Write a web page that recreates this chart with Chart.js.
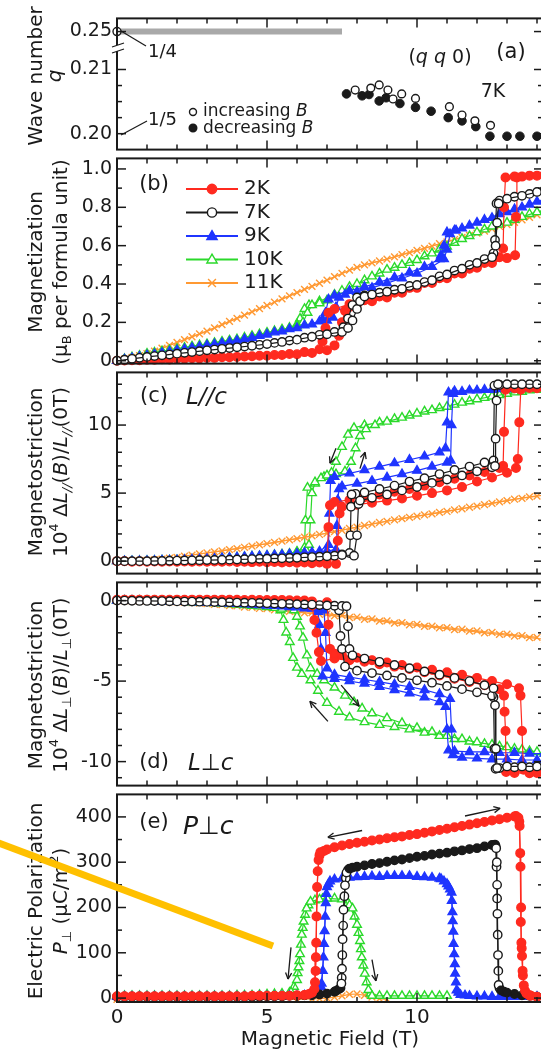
<!DOCTYPE html>
<html>
<head>
<meta charset="utf-8">
<script src="https://cdn.jsdelivr.net/npm/chart.js@4.4.1/dist/chart.umd.min.js"></script>
<style>
  html, body { margin: 0; padding: 0; background: #fff; overflow: hidden; }
  #wrap { position: relative; width: 560px; height: 1053px; }
  #wrap canvas { position: absolute; left: 0; }
</style>
</head>
<body>
<div id="wrap"></div>
<script>
// ---- colours / fonts ----
const INK = '#1a1a1a';
const FONT = '"DejaVu Sans", "Liberation Sans", sans-serif';
const RED = '#ff2a1f', BLUE = '#1f35ff', GREEN = '#2bd92b', ORANGE = '#ff9933';
const GRAY = '#a9a9a9', GOLD = '#ffc000';

// ---- shared field axis ----
const X_MIN = 0, X_MAX = 14.2;
const X_MAJOR = [0, 5, 10];
const X_MINOR = [1, 2, 3, 4, 6, 7, 8, 9, 11, 12, 13, 14];
const X_LABELS = ['0', '5', '10'];
const TEMPS = ['2K', '7K', '9K', '10K', '11K'];

// ---- (a) wave number q at 7K : [B (T), q] ----
const Q_INCREASING = [[7.94,0.2068],[8.46,0.2071],[8.74,0.2076],[9.03,0.2068],[9.2,0.2054],[9.49,0.2062],[9.95,0.2055],[11.08,0.2042],[11.5,0.2029],[11.93,0.2020],[12.45,0.2013]];
const Q_DECREASING = [[7.65,0.2062],[8.17,0.2059],[8.4,0.2061],[8.74,0.2051],[8.97,0.2056],[9.43,0.2047],[9.95,0.2041],[10.47,0.2035],[11.04,0.2025],[11.5,0.2020],[11.96,0.2011],[12.43,0.1996],[13.0,0.1996],[13.43,0.1996],[14.0,0.1996]];
const Q_COMMENSURATE = [[0, 0.25]];
const Q_BAR = [[0, 0.25], [7.5, 0.25]];
const Y_TICKS_A = [0.20, 0.21, 0.25];
const Y_LABELS_A = ['0.20', '0.21', '0.25'];
const Y_MINOR_A = [0.2025, 0.205, 0.2075];

// ---- (b) magnetization ----
const M_2K_UP = [[0,0],[0.5,0.003],[1,0.005],[1.5,0.008],[2,0.01],[2.5,0.013],[3,0.015],[3.5,0.018],[4,0.02],[4.5,0.023],[5,0.026],[5.5,0.03],[6,0.034],[6.5,0.04],[7,0.055],[7.25,0.08],[7.4,0.13],[7.5,0.2],[7.6,0.26],[7.75,0.28],[8,0.295],[8.5,0.31],[9,0.33],[9.5,0.355],[10,0.38],[10.5,0.405],[11,0.43],[11.5,0.455],[12,0.485],[12.5,0.51],[13,0.535],[13.27,0.55],[13.3,0.75],[13.33,0.955],[13.5,0.96],[14,0.965]];
const M_2K_DOWN = [[14.25,0.97],[13.75,0.965],[13.25,0.96],[12.95,0.955],[12.9,0.8],[12.87,0.585],[12.75,0.54],[12.25,0.51],[11.75,0.48],[11.25,0.455],[10.75,0.43],[10.25,0.405],[9.75,0.38],[9.25,0.355],[8.75,0.335],[8.25,0.315],[7.75,0.295],[7.25,0.27],[7.05,0.25],[6.95,0.17],[6.85,0.1],[6.75,0.06],[6.25,0.045],[5.75,0.035],[5.25,0.03],[4.75,0.026],[4.25,0.022],[3.75,0.018],[3.25,0.015],[2.75,0.012],[2.25,0.01],[1.75,0.007],[1.25,0.005],[0.75,0.003],[0.25,0.001]];
const M_7K_UP = [[0,0],[0.5,0.01],[1,0.02],[1.5,0.028],[2,0.037],[2.5,0.045],[3,0.054],[3.5,0.062],[4,0.07],[4.5,0.078],[5,0.087],[5.5,0.098],[6,0.11],[6.5,0.125],[7,0.138],[7.5,0.15],[7.7,0.17],[7.85,0.21],[8,0.27],[8.1,0.31],[8.25,0.335],[8.5,0.345],[9,0.36],[9.5,0.375],[10,0.395],[10.5,0.42],[11,0.45],[11.5,0.48],[12,0.51],[12.5,0.54],[12.62,0.6],[12.67,0.72],[12.72,0.82],[13,0.845],[13.5,0.86],[14,0.88]];
const M_7K_DOWN = [[14.25,0.89],[13.75,0.87],[13.25,0.855],[12.75,0.835],[12.65,0.82],[12.6,0.63],[12.55,0.56],[12.25,0.53],[11.75,0.5],[11.25,0.47],[10.75,0.44],[10.25,0.41],[9.75,0.39],[9.25,0.37],[8.75,0.355],[8.25,0.34],[8.0,0.33],[7.85,0.29],[7.7,0.22],[7.55,0.175],[7.25,0.15],[6.75,0.135],[6.25,0.12],[5.75,0.105],[5.25,0.093],[4.75,0.083],[4.25,0.074],[3.75,0.066],[3.25,0.058],[2.75,0.05],[2.25,0.041],[1.75,0.032],[1.25,0.024],[0.75,0.015],[0.25,0.005]];
const M_9K_UP = [[0,0],[0.5,0.014],[1,0.028],[1.5,0.041],[2,0.054],[2.5,0.067],[3,0.08],[3.5,0.092],[4,0.105],[4.5,0.12],[5,0.137],[5.5,0.153],[6,0.17],[6.5,0.19],[7,0.21],[7.2,0.225],[7.3,0.28],[7.4,0.33],[7.6,0.345],[8,0.36],[8.5,0.38],[9,0.405],[9.5,0.43],[10,0.455],[10.5,0.49],[10.9,0.53],[11,0.58],[11.1,0.66],[11.3,0.68],[11.5,0.69],[12,0.72],[12.5,0.745],[13,0.775],[13.5,0.8],[14,0.83]];
const M_9K_DOWN = [[14.25,0.84],[13.75,0.815],[13.25,0.79],[12.75,0.765],[12.25,0.735],[11.75,0.705],[11.25,0.68],[11.0,0.67],[10.9,0.6],[10.8,0.55],[10.75,0.53],[10.25,0.49],[9.75,0.46],[9.25,0.435],[8.75,0.41],[8.25,0.385],[7.75,0.365],[7.25,0.34],[7.05,0.32],[6.95,0.25],[6.85,0.215],[6.75,0.205],[6.25,0.185],[5.75,0.165],[5.25,0.148],[4.75,0.13],[4.25,0.113],[3.75,0.098],[3.25,0.086],[2.75,0.073],[2.25,0.06],[1.75,0.047],[1.25,0.034],[0.75,0.021],[0.25,0.007]];
const M_10K_UP = [[0,0],[0.5,0.018],[1,0.037],[1.5,0.05],[2,0.062],[2.5,0.075],[3,0.087],[3.5,0.1],[4,0.112],[4.5,0.13],[5,0.146],[5.5,0.163],[6,0.18],[6.2,0.2],[6.35,0.25],[6.5,0.29],[6.75,0.3],[7,0.315],[7.5,0.365],[8,0.4],[8.5,0.44],[9,0.475],[9.5,0.5],[10,0.525],[10.5,0.56],[11,0.595],[11.5,0.635],[12,0.67],[12.5,0.7],[13,0.72],[13.5,0.75],[14,0.775]];
const M_10K_DOWN = [[14.25,0.785],[13.75,0.765],[13.25,0.735],[12.75,0.71],[12.25,0.685],[11.75,0.65],[11.25,0.615],[10.75,0.58],[10.25,0.545],[9.75,0.51],[9.25,0.485],[8.75,0.455],[8.25,0.42],[7.75,0.385],[7.25,0.345],[6.75,0.31],[6.4,0.29],[6.25,0.27],[6.1,0.22],[6.0,0.19],[5.75,0.172],[5.25,0.155],[4.75,0.138],[4.25,0.121],[3.75,0.106],[3.25,0.093],[2.75,0.081],[2.25,0.068],[1.75,0.056],[1.25,0.043],[0.75,0.027],[0.25,0.009]];
const M_11K_UP = [[0,0],[0.5,0.017],[1,0.037],[1.5,0.065],[2,0.095],[2.5,0.125],[3,0.154],[3.5,0.188],[4,0.221],[4.5,0.255],[5,0.288],[5.5,0.322],[6,0.355],[6.5,0.388],[7,0.42],[7.5,0.455],[8,0.487],[8.5,0.51],[9,0.53],[9.5,0.553],[10,0.575],[10.5,0.598],[11,0.62],[11.5,0.643],[12,0.665],[12.5,0.688],[13,0.71],[13.5,0.735],[14,0.76]];
const M_11K_DOWN = [[14.25,0.77],[13.75,0.748],[13.25,0.722],[12.75,0.7],[12.25,0.676],[11.75,0.654],[11.25,0.632],[10.75,0.61],[10.25,0.586],[9.75,0.564],[9.25,0.542],[8.75,0.52],[8.25,0.5],[7.75,0.472],[7.25,0.438],[6.75,0.404],[6.25,0.372],[5.75,0.338],[5.25,0.305],[4.75,0.272],[4.25,0.238],[3.75,0.205],[3.25,0.171],[2.75,0.14],[2.25,0.11],[1.75,0.08],[1.25,0.05],[0.75,0.027],[0.25,0.008]];
const Y_TICKS_B = [0, 0.2, 0.4, 0.6, 0.8, 1.0];
const Y_LABELS_B = ['0', '0.2', '0.4', '0.6', '0.8', '1.0'];
const Y_MINOR_B = [0.1, 0.3, 0.5, 0.7, 0.9];

// ---- (c) magnetostriction L // c (x 1e-4) ----
const LP_2K_UP = [[0,0],[0.5,-0.05],[1,-0.05],[1.5,-0.05],[2,-0.05],[2.5,-0.05],[3,-0.05],[3.5,-0.05],[4,-0.06],[4.5,-0.07],[5,-0.08],[5.5,-0.1],[6,-0.12],[6.5,-0.15],[7,-0.2],[7.3,-0.2],[7.36,1.5],[7.42,3.5],[7.5,4.0],[8,4.15],[8.5,4.3],[9,4.45],[9.5,4.6],[10,4.8],[10.5,5.0],[11,5.2],[11.5,5.45],[12,5.85],[12.5,6.15],[13,6.5],[13.3,6.85],[13.36,7.5],[13.41,10.2],[13.46,12.6],[14,12.7]];
const LP_2K_DOWN = [[14.25,12.75],[13.75,12.72],[13.25,12.7],[12.95,12.6],[12.9,9.5],[12.87,7.0],[12.75,6.85],[12.25,6.55],[11.75,6.3],[11.25,6.05],[10.75,5.8],[10.25,5.55],[9.75,5.3],[9.25,5.1],[8.75,4.9],[8.25,4.7],[7.75,4.5],[7.25,4.35],[7.1,4.1],[7.05,2.5],[7.0,0.2],[6.75,-0.1],[6.25,-0.1],[5.75,-0.08],[5.25,-0.06],[4.75,-0.05],[4.25,-0.04],[3.75,-0.03],[3.25,-0.03],[2.75,-0.03],[2.25,-0.03],[1.75,-0.03],[1.25,-0.03],[0.75,-0.02],[0.25,-0.01]];
const LP_7K_UP = [[0,0],[0.5,0],[1,0],[1.5,0.02],[2,0.04],[2.5,0.06],[3,0.08],[3.5,0.1],[4,0.12],[4.5,0.15],[5,0.18],[5.5,0.21],[6,0.25],[6.5,0.3],[7,0.36],[7.5,0.45],[7.9,0.4],[8.0,1.9],[8.05,4.2],[8.1,4.45],[8.5,4.65],[9,4.9],[9.5,5.2],[10,5.45],[10.5,5.75],[11,6.0],[11.5,6.3],[12,6.6],[12.5,6.9],[12.6,7.0],[12.62,9.0],[12.65,11.8],[12.7,13.0],[13,13.0],[13.5,13.0],[14,13.0]];
const LP_7K_DOWN = [[14.25,13.0],[13.75,13.0],[13.25,13.0],[12.75,12.95],[12.58,12.9],[12.55,7.4],[12.25,7.25],[11.75,6.95],[11.25,6.7],[10.75,6.4],[10.25,6.1],[9.75,5.85],[9.25,5.55],[8.75,5.3],[8.25,5.05],[7.95,4.95],[7.82,4.9],[7.8,4.0],[7.78,1.9],[7.75,0.6],[7.5,0.5],[7.25,0.4],[6.75,0.33],[6.25,0.28],[5.75,0.23],[5.25,0.2],[4.75,0.17],[4.25,0.14],[3.75,0.11],[3.25,0.09],[2.75,0.07],[2.25,0.05],[1.75,0.03],[1.25,0.01],[0.75,0],[0.25,0]];
const LP_9K_UP = [[0,0],[0.5,0],[1,0.02],[1.5,0.05],[2,0.08],[2.5,0.12],[3,0.17],[3.5,0.22],[4,0.28],[4.5,0.34],[5,0.4],[5.5,0.47],[6,0.55],[6.5,0.65],[7,0.75],[7.3,0.85],[7.33,2.6],[7.36,4.5],[7.4,5.3],[7.5,5.5],[8,5.7],[8.5,5.9],[9,6.15],[9.5,6.4],[10,6.65],[10.5,6.95],[11,7.25],[11.12,7.4],[11.15,10.0],[11.2,12.3],[11.5,12.45],[12,12.55],[12.5,12.6],[13,12.65],[13.5,12.7],[14,12.75]];
const LP_9K_DOWN = [[14.25,12.8],[13.75,12.75],[13.25,12.7],[12.75,12.65],[12.25,12.6],[11.75,12.55],[11.25,12.5],[11.05,12.4],[11.0,10.2],[10.95,8.3],[10.75,8.0],[10.25,7.7],[9.75,7.45],[9.25,7.2],[8.75,6.95],[8.25,6.7],[7.75,6.45],[7.25,6.2],[7.12,5.9],[7.08,3.5],[7.05,1.2],[6.75,0.72],[6.25,0.62],[5.75,0.52],[5.25,0.44],[4.75,0.37],[4.25,0.31],[3.75,0.25],[3.25,0.19],[2.75,0.14],[2.25,0.1],[1.75,0.06],[1.25,0.03],[0.75,0.01],[0.25,0]];
const LP_10K_UP = [[0,0],[0.5,0],[1,0.02],[1.5,0.05],[2,0.08],[2.5,0.12],[3,0.17],[3.5,0.22],[4,0.28],[4.5,0.34],[5,0.4],[5.5,0.5],[6,0.65],[6.3,0.8],[6.4,1.2],[6.45,3.0],[6.5,5.0],[6.6,5.8],[6.8,6.1],[7,6.3],[7.3,6.4],[7.6,6.6],[7.8,7.3],[7.95,8.3],[8.1,9.2],[8.3,9.7],[8.6,10.0],[9,10.25],[9.5,10.55],[10,10.85],[10.5,11.1],[11,11.35],[11.5,11.65],[12,11.9],[12.5,12.1],[13,12.3],[13.5,12.45],[14,12.6]];
const LP_10K_DOWN = [[14.25,12.65],[13.75,12.55],[13.25,12.4],[12.75,12.2],[12.25,12.0],[11.75,11.75],[11.25,11.5],[10.75,11.25],[10.25,11.0],[9.75,10.7],[9.25,10.45],[8.75,10.2],[8.25,10.0],[7.9,9.8],[7.7,9.3],[7.5,8.4],[7.3,7.3],[7.15,6.5],[6.9,6.2],[6.6,5.7],[6.35,5.4],[6.28,3.0],[6.25,1.0],[6.0,0.7],[5.75,0.56],[5.25,0.45],[4.75,0.37],[4.25,0.31],[3.75,0.25],[3.25,0.19],[2.75,0.14],[2.25,0.1],[1.75,0.06],[1.25,0.03],[0.75,0.01],[0.25,0]];
const LP_11K_UP = [[0,0],[0.5,0.02],[1,0.06],[1.5,0.15],[2,0.28],[2.5,0.45],[3,0.6],[3.5,0.76],[4,0.92],[4.5,1.1],[5,1.28],[5.5,1.47],[6,1.66],[6.5,1.85],[7,2.05],[7.5,2.27],[8,2.5],[8.5,2.72],[9,2.93],[9.5,3.12],[10,3.3],[10.5,3.48],[11,3.65],[11.5,3.85],[12,4.05],[12.5,4.25],[13,4.45],[13.5,4.62],[14,4.78]];
const LP_11K_DOWN = [[14.25,4.85],[13.75,4.72],[13.25,4.55],[12.75,4.36],[12.25,4.16],[11.75,3.96],[11.25,3.77],[10.75,3.58],[10.25,3.4],[9.75,3.22],[9.25,3.04],[8.75,2.84],[8.25,2.62],[7.75,2.4],[7.25,2.17],[6.75,1.96],[6.25,1.76],[5.75,1.57],[5.25,1.38],[4.75,1.2],[4.25,1.02],[3.75,0.85],[3.25,0.68],[2.75,0.53],[2.25,0.37],[1.75,0.22],[1.25,0.1],[0.75,0.04],[0.25,0.01]];
const Y_TICKS_C = [0, 5, 10];
const Y_LABELS_C = ['0', '5', '10'];
const Y_MINOR_C = [1, 2, 3, 4, 6, 7, 8, 9, 11, 12, 13];

// ---- (d) magnetostriction L perp c (x 1e-4) ----
const LT_2K_UP = [[0,0.05],[0.5,0.05],[1,0.06],[1.5,0.06],[2,0.06],[2.5,0.06],[3,0.06],[3.5,0.06],[4,0.05],[4.5,0.05],[5,0.04],[5.5,0.03],[6,0.0],[6.5,-0.05],[7,-0.1],[7.05,-1.5],[7.1,-3.0],[7.25,-3.3],[7.5,-3.4],[8,-3.55],[8.5,-3.7],[9,-3.85],[9.5,-4.0],[10,-4.15],[10.5,-4.3],[11,-4.45],[11.5,-4.6],[12,-4.8],[12.5,-5.0],[13,-5.2],[13.4,-5.45],[13.45,-5.9],[13.5,-8.1],[13.55,-10.5],[14,-10.7]];
const LT_2K_DOWN = [[14.25,-10.75],[13.75,-10.72],[13.25,-10.7],[12.97,-10.65],[12.95,-8.1],[12.92,-6.9],[12.9,-5.9],[12.75,-5.5],[12.25,-5.25],[11.75,-5.05],[11.25,-4.85],[10.75,-4.65],[10.25,-4.45],[9.75,-4.25],[9.25,-4.1],[8.75,-3.95],[8.25,-3.8],[7.75,-3.7],[7.25,-3.6],[6.8,-3.75],[6.73,-3.2],[6.65,-2.0],[6.58,-1.2],[6.5,-0.3],[6.25,0.0],[5.75,0.02],[5.25,0.03],[4.75,0.04],[4.25,0.04],[3.75,0.05],[3.25,0.05],[2.75,0.05],[2.25,0.05],[1.75,0.05],[1.25,0.05],[0.75,0.05],[0.25,0.05]];
const LT_7K_UP = [[0,0],[0.5,-0.01],[1,-0.02],[1.5,-0.03],[2,-0.05],[2.5,-0.06],[3,-0.08],[3.5,-0.1],[4,-0.12],[4.5,-0.14],[5,-0.17],[5.5,-0.2],[6,-0.22],[6.5,-0.25],[7,-0.3],[7.5,-0.33],[7.65,-0.35],[7.7,-1.6],[7.75,-3.0],[7.85,-3.4],[8.25,-3.6],[8.75,-3.8],[9.25,-4.0],[9.75,-4.2],[10.25,-4.4],[10.75,-4.6],[11.25,-4.8],[11.75,-5.0],[12.25,-5.25],[12.55,-5.45],[12.6,-6.5],[12.63,-9.2],[12.67,-10.4],[13,-10.3],[13.5,-10.3],[14,-10.3]];
const LT_7K_DOWN = [[14.25,-10.35],[13.75,-10.35],[13.25,-10.35],[12.75,-10.4],[12.62,-10.45],[12.58,-9.2],[12.55,-6.0],[12.5,-5.9],[12,-5.7],[11.5,-5.5],[11,-5.3],[10.5,-5.1],[10,-4.95],[9.5,-4.8],[9,-4.65],[8.5,-4.5],[8,-4.35],[7.6,-4.1],[7.5,-3.0],[7.45,-2.2],[7.4,-0.6],[7.25,-0.32],[6.75,-0.28],[6.25,-0.24],[5.75,-0.2],[5.25,-0.18],[4.75,-0.15],[4.25,-0.13],[3.75,-0.11],[3.25,-0.09],[2.75,-0.07],[2.25,-0.06],[1.75,-0.04],[1.25,-0.03],[0.75,-0.02],[0.25,0]];
const LT_9K_UP = [[0,0],[0.5,-0.01],[1,-0.02],[1.5,-0.04],[2,-0.06],[2.5,-0.09],[3,-0.12],[3.5,-0.16],[4,-0.2],[4.5,-0.25],[5,-0.3],[5.5,-0.36],[6,-0.42],[6.5,-0.5],[6.9,-0.6],[6.95,-2.0],[7.0,-4.2],[7.25,-4.6],[7.75,-4.75],[8.25,-4.9],[8.75,-5.05],[9.25,-5.2],[9.75,-5.35],[10.25,-5.55],[10.75,-5.8],[11.1,-6.1],[11.15,-8.0],[11.2,-9.6],[11.5,-9.75],[12,-9.8],[12.5,-9.85],[13,-9.85],[13.5,-9.9],[14,-9.9]];
const LT_9K_DOWN = [[14.25,-9.5],[13.75,-9.5],[13.25,-9.45],[12.75,-9.45],[12.25,-9.4],[11.75,-9.4],[11.25,-9.35],[11.05,-9.3],[11.0,-8.0],[10.95,-6.6],[10.75,-6.3],[10.25,-6.0],[9.75,-5.75],[9.25,-5.55],[8.75,-5.35],[8.25,-5.15],[7.75,-5.0],[7.25,-4.85],[6.85,-4.7],[6.8,-3.0],[6.75,-1.5],[6.7,-0.7],[6.25,-0.48],[5.75,-0.4],[5.25,-0.33],[4.75,-0.27],[4.25,-0.22],[3.75,-0.18],[3.25,-0.14],[2.75,-0.1],[2.25,-0.07],[1.75,-0.05],[1.25,-0.03],[0.75,-0.02],[0.25,0]];
const LT_10K_UP = [[0,0],[0.5,-0.01],[1,-0.02],[1.5,-0.04],[2,-0.07],[2.5,-0.1],[3,-0.14],[3.5,-0.19],[4,-0.25],[4.5,-0.32],[5,-0.4],[5.5,-0.5],[5.9,-0.6],[6.0,-1.0],[6.1,-1.6],[6.2,-2.3],[6.33,-3.4],[6.45,-4.2],[6.67,-4.55],[6.9,-4.95],[7.25,-5.4],[7.6,-5.9],[7.9,-6.3],[8.17,-6.7],[8.5,-7.0],[9,-7.3],[9.5,-7.6],[10,-7.9],[10.5,-8.15],[11,-8.4],[11.5,-8.6],[12,-8.8],[12.5,-8.95],[13,-9.1],[13.5,-9.25],[14,-9.4]];
const LT_10K_DOWN = [[14.25,-9.5],[13.75,-9.35],[13.25,-9.2],[12.75,-9.05],[12.25,-8.9],[11.75,-8.75],[11.25,-8.6],[10.75,-8.4],[10.25,-8.2],[9.75,-8.0],[9.25,-7.85],[8.75,-7.72],[8.25,-7.55],[7.75,-7.25],[7.4,-6.9],[7.0,-6.35],[6.7,-5.6],[6.45,-4.95],[6.16,-4.55],[6.0,-4.16],[5.87,-3.56],[5.76,-2.57],[5.64,-1.98],[5.55,-1.2],[5.45,-0.6],[5.25,-0.45],[4.75,-0.36],[4.25,-0.28],[3.75,-0.22],[3.25,-0.16],[2.75,-0.12],[2.25,-0.08],[1.75,-0.05],[1.25,-0.03],[0.75,-0.01],[0.25,0]];
const LT_11K_UP = [[0,0],[0.5,0],[1,-0.02],[1.5,-0.05],[2,-0.08],[2.5,-0.13],[3,-0.18],[3.5,-0.25],[4,-0.33],[4.5,-0.42],[5,-0.5],[5.5,-0.58],[6,-0.66],[6.5,-0.74],[7,-0.82],[7.5,-0.92],[8,-1.02],[8.5,-1.14],[9,-1.26],[9.5,-1.37],[10,-1.48],[10.5,-1.58],[11,-1.68],[11.5,-1.78],[12,-1.88],[12.5,-1.98],[13,-2.08],[13.5,-2.18],[14,-2.28]];
const LT_11K_DOWN = [[14.25,-2.4],[13.75,-2.3],[13.25,-2.2],[12.75,-2.1],[12.25,-2.0],[11.75,-1.9],[11.25,-1.8],[10.75,-1.7],[10.25,-1.6],[9.75,-1.5],[9.25,-1.4],[8.75,-1.28],[8.25,-1.16],[7.75,-1.05],[7.25,-0.95],[6.75,-0.85],[6.25,-0.76],[5.75,-0.67],[5.25,-0.58],[4.75,-0.49],[4.25,-0.4],[3.75,-0.31],[3.25,-0.23],[2.75,-0.16],[2.25,-0.1],[1.75,-0.06],[1.25,-0.03],[0.75,-0.01],[0.25,0]];
const Y_TICKS_D = [0, -5, -10];
const Y_LABELS_D = ['0', '-5', '-10'];
const Y_MINOR_D = [-1, -2, -3, -4, -6, -7, -8, -9, -11];

// ---- (e) electric polarization P perp c (uC/m2) ----
const P_2K_UP = [[0,4],[0.5,4],[1,4],[1.5,4],[2,4],[2.5,4],[3,4],[3.5,4],[4,4],[4.5,5],[5,5],[5.5,5],[6,6],[6.4,9],[6.58,20],[6.62,60],[6.64,122],[6.67,245],[6.72,305],[6.78,322],[7,328],[7.5,337],[8,343],[8.5,348],[9,353],[9.5,357],[10,362],[10.5,368],[11,374],[11.5,380],[12,386],[12.5,392],[13,398],[13.3,402],[13.38,398],[13.42,380],[13.44,320],[13.46,168],[13.48,122],[13.5,93],[13.52,60],[13.56,28],[13.65,10],[13.8,5],[14,3]];
const P_2K_DOWN = [[14.25,3],[13.75,6],[13.6,16],[13.53,50],[13.49,110],[13.47,200],[13.45,290],[13.41,390],[13.25,401],[12.75,395],[12.25,389],[11.75,383],[11.25,377],[10.75,371],[10.25,365],[9.75,360],[9.25,355],[8.75,350],[8.25,345],[7.75,340],[7.25,333],[6.9,325],[6.75,315],[6.69,280],[6.65,180],[6.63,90],[6.6,35],[6.5,12],[6.25,7],[5.75,5],[5.25,5],[4.75,5],[4.25,4],[3.75,4],[3.25,4],[2.75,4],[2.25,4],[1.75,4],[1.25,4],[0.75,4],[0.25,4]];
const P_7K_UP = [[0,3],[0.5,3],[1,3],[1.5,3],[2,3],[2.5,3],[3,3],[3.5,3],[4,3],[4.5,3],[5,4],[5.5,4],[6,5],[6.5,6],[7,10],[7.3,16],[7.45,22],[7.48,32],[7.5,65],[7.52,130],[7.55,195],[7.6,249],[7.65,277],[7.75,286],[8,290],[8.5,296],[9,301],[9.5,306],[10,312],[10.5,317],[11,321],[11.5,326],[12,331],[12.5,338],[12.6,339],[12.64,331],[12.66,300],[12.67,250],[12.68,186],[12.7,95],[12.72,29],[12.8,17],[13,12],[13.5,6],[14,3]];
const P_7K_DOWN = [[14.25,3],[13.75,5],[13.25,9],[12.9,14],[12.75,22],[12.71,60],[12.69,140],[12.67,220],[12.65,290],[12.62,336],[12.25,335],[11.75,329],[11.25,324],[10.75,319],[10.25,314],[9.75,309],[9.25,304],[8.75,298],[8.25,293],[7.85,288],[7.7,283],[7.63,265],[7.58,225],[7.54,160],[7.51,95],[7.49,45],[7.4,20],[7.25,14],[6.75,8],[6.25,6],[5.75,5],[5.25,4],[4.75,3],[4.25,3],[3.75,3],[3.25,3],[2.75,3],[2.25,3],[1.75,3],[1.25,3],[0.75,3],[0.25,3]];
const P_9K_UP = [[0,3],[0.5,3],[1,3],[1.5,3],[2,3],[2.5,3],[3,3],[3.5,3],[4,3],[4.5,3],[5,4],[5.5,4],[6,5],[6.5,7],[6.75,14],[6.82,32],[6.88,90],[6.92,148],[6.96,210],[7,245],[7.1,258],[7.5,264],[8,267],[8.5,269],[9,270],[9.5,270],[10,268],[10.5,266],[10.8,263],[11,252],[11.1,240],[11.15,233],[11.18,190],[11.21,147],[11.24,97],[11.27,54],[11.32,17],[11.45,7],[11.75,5],[12,4],[12.5,3],[13,3],[13.5,3],[14,3]];
const P_9K_DOWN = [[14.25,3],[13.75,3],[13.25,3],[12.75,3],[12.25,4],[11.6,6],[11.38,12],[11.3,35],[11.26,75],[11.22,120],[11.19,170],[11.16,215],[11.05,247],[10.9,258],[10.75,264],[10.25,267],[9.75,270],[9.25,270],[8.75,268],[8.25,268],[7.75,266],[7.25,262],[7.05,252],[6.98,230],[6.94,180],[6.9,120],[6.86,60],[6.8,25],[6.7,10],[6.25,6],[5.75,5],[5.25,4],[4.75,4],[4.25,3],[3.75,3],[3.25,3],[2.75,3],[2.25,3],[1.75,3],[1.25,3],[0.75,3],[0.25,3]];
const P_10K_UP = [[0,5],[0.5,5],[1,5],[1.5,5],[2,5],[2.5,5],[3,5],[3.5,5],[4,6],[4.5,6],[5,8],[5.5,10],[5.8,13],[6,40],[6.05,68],[6.1,97],[6.16,140],[6.22,169],[6.32,198],[6.45,213],[6.75,218],[7,220],[7.5,218],[7.75,205],[7.85,198],[8,162],[8.1,126],[8.16,90],[8.26,54],[8.38,18],[8.5,5],[9,5],[9.5,5],[10,5],[10.5,5],[11,5]];
const P_10K_DOWN = [[10.75,5],[10.25,5],[9.75,5],[9.25,5],[8.75,5],[8.45,10],[8.32,35],[8.21,72],[8.13,108],[8.05,144],[7.92,180],[7.7,210],[7.25,220],[6.85,219],[6.6,216],[6.38,205],[6.27,184],[6.19,155],[6.13,118],[6.08,82],[6.02,55],[5.9,25],[5.75,12],[5.25,9],[4.75,7],[4.25,6],[3.75,5],[3.25,5],[2.75,5],[2.25,5],[1.75,5],[1.25,5],[0.75,5],[0.25,5]];
const P_11K = [[0,-3],[0.5,-3],[1,-3],[1.5,-3],[2,-3],[2.5,-3],[3,-3],[3.5,-3],[4,-3],[4.5,-3],[5,-3],[5.5,-3],[6,-3],[6.5,-2],[6.75,-1],[7,0],[7.25,2],[7.5,5],[7.75,8],[8,9],[8.25,6],[8.5,2],[8.75,-1],[9,-3]];
const Y_TICKS_E = [0, 100, 200, 300, 400];
const Y_LABELS_E = ['0', '100', '200', '300', '400'];
const Y_MINOR_E = [50, 150, 250, 350];

// ---- styles per temperature ----
const STYLE = {
  '2K':  { color: RED,    fill: RED,    pointStyle: 'circle',   radius: 4.3 },
  '7K':  { color: INK,    fill: '#fff', pointStyle: 'circle',   radius: 4.2 },
  '9K':  { color: BLUE,   fill: BLUE,   pointStyle: 'triangle', radius: 5 },
  '10K': { color: GREEN,  fill: '#fff', pointStyle: 'triangle', radius: 5 },
  '11K': { color: ORANGE, fill: ORANGE, pointStyle: 'crossRot', radius: 4.8 }
};

// the axis break puts q = 1/4 just under the top frame
const Q_BREAK_AT = 0.21591;
const qPos = q => (q > 0.23 ? Q_BREAK_AT + (q - 0.25) : q);

function sweep(pairs, temp, order, extra) {
  const s = STYLE[temp];
  return Object.assign({
    label: temp,
    data: pairs.map(([x, y]) => ({ x, y })),
    showLine: true,
    borderColor: s.color,
    borderWidth: 1.2,
    pointStyle: s.pointStyle,
    pointRadius: s.radius,
    pointBackgroundColor: s.fill,
    pointBorderColor: s.color,
    pointBorderWidth: 1.4,
    order: order,
    clip: false
  }, extra || {});
}

// dense runs of the 7K polarization look solid, the jumps keep open circles
const denseFill = c => {
  const d = c.dataset.data, i = c.dataIndex;
  const near = [d[i - 1], d[i + 1]].filter(Boolean).every(p => Math.abs(p.y - d[i].y) < 15);
  return near ? INK : '#fff';
};

// ---- drawing helpers ----
function fontOf(size, f) {
  const small = /[bp]/.test(f);
  return (f.includes('i') ? 'italic ' : '') + (small ? Math.round(size * 0.66) : size) + 'px ' + FONT;
}
// parts: [text, flags]; flags: i = italic, b = subscript, p = superscript
function drawRich(ctx, parts, x, y, size, opts = {}) {
  ctx.save();
  ctx.translate(x, y);
  if (opts.rotate) ctx.rotate(-Math.PI / 2);
  ctx.fillStyle = opts.color || INK;
  ctx.textBaseline = 'middle';
  ctx.textAlign = 'left';
  let w = 0;
  parts.forEach(([t, f = '']) => { ctx.font = fontOf(size, f); w += ctx.measureText(t).width; });
  let cx = opts.align === 'left' ? 0 : -w / 2;
  parts.forEach(([t, f = '']) => {
    ctx.font = fontOf(size, f);
    const dy = f.includes('b') ? size * 0.3 : (f.includes('p') ? -size * 0.35 : 0);
    ctx.fillText(t, cx, dy);
    cx += ctx.measureText(t).width;
  });
  ctx.restore();
}
function seg(ctx, x1, y1, x2, y2) {
  ctx.beginPath(); ctx.moveTo(x1, y1); ctx.lineTo(x2, y2); ctx.stroke();
}
function arrow(ctx, x1, y1, x2, y2) {
  ctx.save();
  ctx.strokeStyle = INK; ctx.lineWidth = 1.3;
  seg(ctx, x1, y1, x2, y2);
  const a = Math.atan2(y2 - y1, x2 - x1), L = 7;
  seg(ctx, x2, y2, x2 - L * Math.cos(a - 0.45), y2 - L * Math.sin(a - 0.45));
  seg(ctx, x2, y2, x2 - L * Math.cos(a + 0.45), y2 - L * Math.sin(a + 0.45));
  ctx.restore();
}
function drawMarker(ctx, st, x, y, r) {
  ctx.save();
  ctx.fillStyle = st.fill; ctx.strokeStyle = st.color; ctx.lineWidth = 1.4;
  ctx.beginPath();
  if (st.pointStyle === 'circle') {
    ctx.arc(x, y, r, 0, Math.PI * 2); ctx.fill(); ctx.stroke();
  } else if (st.pointStyle === 'triangle') {
    ctx.moveTo(x, y - r); ctx.lineTo(x + r * 0.95, y + r * 0.65); ctx.lineTo(x - r * 0.95, y + r * 0.65);
    ctx.closePath(); ctx.fill(); ctx.stroke();
  } else {
    const d = r * 0.75;
    ctx.moveTo(x - d, y - d); ctx.lineTo(x + d, y + d); ctx.moveTo(x + d, y - d); ctx.lineTo(x - d, y + d);
    ctx.stroke();
  }
  ctx.restore();
}

// ---- panels ----
const PANELS = [
  {
    id: 'a', top: 14, bottom: 154, yMin: 0.19752, yMax: 0.21796,
    yTicks: Y_TICKS_A.map(qPos), yLabels: Y_LABELS_A, yMinor: Y_MINOR_A,
    datasets: [
      { data: Q_BAR.map(([x, y]) => ({ x, y: qPos(y) })), showLine: true, borderColor: GRAY, borderWidth: 6, pointRadius: 0, order: 3, clip: false },
      { data: Q_COMMENSURATE.map(([x, y]) => ({ x, y: qPos(y) })), pointRadius: 4, pointBackgroundColor: '#fff', pointBorderColor: INK, pointBorderWidth: 1.4, order: 0, clip: false },
      { data: Q_DECREASING.map(([x, y]) => ({ x, y })), pointRadius: 4.3, pointBackgroundColor: INK, pointBorderColor: INK, pointBorderWidth: 1, order: 2, clip: false },
      { data: Q_INCREASING.map(([x, y]) => ({ x, y })), pointRadius: 3.9, pointBackgroundColor: '#fff', pointBorderColor: INK, pointBorderWidth: 1.4, order: 1, clip: false }
    ],
    titles: [[['Wave number']], [['q', 'i']]], titleX: [37, 56], titleY: 76,
    extra(ctx, P) {
      // axis break between 0.21 and 1/4
      ctx.save();
      ctx.fillStyle = '#fff'; ctx.fillRect(112, P(45), 12, 6);
      ctx.strokeStyle = INK; ctx.lineWidth = 1.3;
      seg(ctx, 112, P(47), 124, P(43)); seg(ctx, 112, P(53), 124, P(49));
      ctx.lineWidth = 1.2;
      seg(ctx, 121, P(31), 146, P(46));
      seg(ctx, 121, P(135), 147, P(121));
      ctx.restore();
      drawRich(ctx, [['1/4']], 148, P(52), 18, { align: 'left' });
      drawRich(ctx, [['1/5']], 148, P(120), 18, { align: 'left' });
      drawRich(ctx, [['('], ['q', 'i'], [' '], ['q', 'i'], [' 0)']], 440, P(58), 19);
      drawRich(ctx, [['(a)']], 511, P(53), 21);
      drawRich(ctx, [['7K']], 493, P(92), 19);
      drawMarker(ctx, { fill: '#fff', color: INK, pointStyle: 'circle' }, 193, P(112), 3.5);
      drawMarker(ctx, { fill: INK, color: INK, pointStyle: 'circle' }, 193, P(128), 3.8);
      drawRich(ctx, [['increasing '], ['B', 'i']], 203, P(112), 17, { align: 'left' });
      drawRich(ctx, [['decreasing '], ['B', 'i']], 203, P(129), 17, { align: 'left' });
    }
  },
  {
    id: 'b', top: 154, bottom: 368, yMin: -0.015, yMax: 1.055,
    yTicks: Y_TICKS_B, yLabels: Y_LABELS_B, yMinor: Y_MINOR_B,
    datasets: [
      sweep(M_7K_UP, '7K', 0), sweep(M_7K_DOWN, '7K', 0),
      sweep(M_2K_UP, '2K', 1), sweep(M_2K_DOWN, '2K', 1),
      sweep(M_9K_UP, '9K', 2), sweep(M_9K_DOWN, '9K', 2),
      sweep(M_10K_UP, '10K', 3), sweep(M_10K_DOWN, '10K', 3),
      sweep(M_11K_UP, '11K', 4), sweep(M_11K_DOWN, '11K', 4)
    ],
    titles: [[['Magnetization']], [['(\u03bc'], ['B', 'b'], [' per formula unit)']]], titleX: [37, 62], titleY: 262,
    extra(ctx, P) {
      drawRich(ctx, [['(b)']], 154, P(185), 21);
      TEMPS.forEach((t, i) => {
        const y = P(189 + i * 23.5), st = STYLE[t];
        ctx.save(); ctx.strokeStyle = st.color; ctx.lineWidth = 2.2; seg(ctx, 186, y, 238, y); ctx.restore();
        drawMarker(ctx, st, 212, y, st.radius + 0.4);
        drawRich(ctx, [[t]], 244, y, 20, { align: 'left' });
      });
    }
  },
  {
    id: 'c', top: 368, bottom: 578, yMin: -0.915, yMax: 13.87,
    yTicks: Y_TICKS_C, yLabels: Y_LABELS_C, yMinor: Y_MINOR_C,
    datasets: [
      sweep(LP_7K_UP, '7K', 0), sweep(LP_7K_DOWN, '7K', 0),
      sweep(LP_2K_UP, '2K', 1), sweep(LP_2K_DOWN, '2K', 1),
      sweep(LP_9K_UP, '9K', 2), sweep(LP_9K_DOWN, '9K', 2),
      sweep(LP_11K_UP, '11K', 3), sweep(LP_11K_DOWN, '11K', 3),
      sweep(LP_10K_UP, '10K', 4), sweep(LP_10K_DOWN, '10K', 4)
    ],
    titles: [[['Magnetostriction']], [['10'], ['4', 'p'], [' \u0394'], ['L', 'i'], ['//', 'ib'], ['('], ['B', 'i'], [')/'], ['L', 'i'], ['//', 'ib'], ['(0T)']]], titleX: [37, 62], titleY: 472,
    extra(ctx, P, D) {
      drawRich(ctx, [['(c)']], 154, P(397), 21);
      drawRich(ctx, [['L//c', 'i']], 186, P(398), 23, { align: 'left' });
      arrow(ctx, ...D(7.3, 8.3), ...D(7.1, 7.2));
      arrow(ctx, ...D(8.1, 6.8), ...D(8.27, 8.0));
    }
  },
  {
    id: 'd', top: 578, bottom: 790, yMin: -11.49, yMax: 1.13,
    yTicks: Y_TICKS_D, yLabels: Y_LABELS_D, yMinor: Y_MINOR_D,
    datasets: [
      sweep(LT_7K_UP, '7K', 0), sweep(LT_7K_DOWN, '7K', 0),
      sweep(LT_2K_UP, '2K', 1), sweep(LT_2K_DOWN, '2K', 1),
      sweep(LT_9K_UP, '9K', 2), sweep(LT_9K_DOWN, '9K', 2),
      sweep(LT_10K_UP, '10K', 3), sweep(LT_10K_DOWN, '10K', 3),
      sweep(LT_11K_UP, '11K', 4), sweep(LT_11K_DOWN, '11K', 4)
    ],
    titles: [[['Magnetostriction']], [['10'], ['4', 'p'], [' \u0394'], ['L', 'i'], ['\u22a5', 'b'], ['('], ['B', 'i'], [')/'], ['L', 'i'], ['\u22a5', 'b'], ['(0T)']]], titleX: [37, 62], titleY: 685,
    extra(ctx, P, D) {
      drawRich(ctx, [['(d)']], 154, P(763), 21);
      drawRich(ctx, [['L', 'i'], ['\u22a5'], ['c', 'i']], 188, P(764), 23, { align: 'left' });
      arrow(ctx, ...D(7.47, -5.25), ...D(8.07, -6.55));
      arrow(ctx, ...D(7.03, -7.5), ...D(6.43, -6.25));
    }
  },
  {
    id: 'e', top: 790, bottom: 1002, yMin: -8.65, yMax: 449.7,
    yTicks: Y_TICKS_E, yLabels: Y_LABELS_E, yMinor: Y_MINOR_E,
    datasets: [
      sweep(P_2K_UP, '2K', 0), sweep(P_2K_DOWN, '2K', 0),
      sweep(P_7K_UP, '7K', 1, { pointBackgroundColor: denseFill }), sweep(P_7K_DOWN, '7K', 1, { pointBackgroundColor: denseFill }),
      sweep(P_9K_UP, '9K', 2), sweep(P_9K_DOWN, '9K', 2),
      sweep(P_10K_UP, '10K', 3), sweep(P_10K_DOWN, '10K', 3),
      sweep(P_11K, '11K', 4)
    ],
    titles: [[['Electric Polarization']], [['P', 'i'], ['\u22a5', 'b'], [' (\u03bcC/m'], ['2', 'p'], [')']]], titleX: [37, 62], titleY: 901,
    xAxis: true,
    extra(ctx, P, D) {
      drawRich(ctx, [['(e)']], 154, P(823), 21);
      drawRich(ctx, [['P', 'i'], ['\u22a5'], ['c', 'i']], 183, P(827), 25, { align: 'left' });
      arrow(ctx, ...D(8.17, 370), ...D(7.03, 355));
      arrow(ctx, ...D(11.6, 402), ...D(12.77, 419));
      arrow(ctx, ...D(5.8, 112), ...D(5.7, 42));
      arrow(ctx, ...D(8.5, 85), ...D(8.63, 38));
      // highlighter stroke laid over the figure
      ctx.save();
      ctx.strokeStyle = GOLD; ctx.lineWidth = 7;
      seg(ctx, -4, P(842), 273, P(946));
      ctx.restore();
    }
  }
];

const wrap = document.getElementById('wrap');
const CANVAS_W = 560, PLOT_LEFT = 117, PLOT_RIGHT = 543, PAGE_H = 1053, X_AXIS_H = 51;

PANELS.forEach(spec => {
  const cTop = Math.max(0, spec.top - 12);
  const cBottom = spec.xAxis ? PAGE_H : spec.bottom + 12;
  const canvas = document.createElement('canvas');
  canvas.id = 'panel-' + spec.id;
  canvas.width = CANVAS_W; canvas.height = cBottom - cTop;
  canvas.style.top = cTop + 'px';
  canvas.style.width = CANVAS_W + 'px'; canvas.style.height = (cBottom - cTop) + 'px';
  wrap.appendChild(canvas);

  const P = y => y - cTop;
  const framePlugin = {
    id: 'frame' + spec.id,
    afterDatasetsDraw(chart) {
      const { ctx, chartArea: a, scales: { x, y } } = chart;
      const MAJ = 9, MIN = 5;
      ctx.save();
      ctx.strokeStyle = INK; ctx.lineWidth = 1.5;
      X_MAJOR.forEach(v => { const px = x.getPixelForValue(v); seg(ctx, px, a.top, px, a.top + MAJ); seg(ctx, px, a.bottom, px, a.bottom - MAJ); });
      X_MINOR.forEach(v => { const px = x.getPixelForValue(v); seg(ctx, px, a.top, px, a.top + MIN); seg(ctx, px, a.bottom, px, a.bottom - MIN); });
      spec.yTicks.forEach(v => { const py = y.getPixelForValue(v); seg(ctx, a.left, py, a.left + MAJ, py); seg(ctx, a.right, py, a.right - MAJ, py); });
      spec.yMinor.forEach(v => { const py = y.getPixelForValue(v); seg(ctx, a.left, py, a.left + MIN, py); seg(ctx, a.right, py, a.right - MIN, py); });
      ctx.lineWidth = 2;
      ctx.strokeRect(a.left, a.top, a.right - a.left, a.bottom - a.top);
      ctx.restore();
    },
    afterDraw(chart) {
      const { ctx, scales: { x, y } } = chart;
      const D = (b, v) => [x.getPixelForValue(b), y.getPixelForValue(v)];
      const cy = P(spec.titleY);
      spec.titles.forEach((parts, i) => drawRich(ctx, parts, spec.titleX[i], cy, 20, { rotate: true }));
      spec.extra(ctx, P, D);
    }
  };

  new Chart(canvas, {
    type: 'scatter',
    data: { datasets: spec.datasets },
    options: {
      responsive: false,
      animation: false,
      devicePixelRatio: 1,
      events: [],
      layout: { padding: { left: 0, right: CANVAS_W - PLOT_RIGHT, top: spec.top - cTop, bottom: spec.xAxis ? 0 : cBottom - spec.bottom } },
      plugins: { legend: { display: false }, tooltip: { enabled: false } },
      scales: {
        x: {
          type: 'linear', min: X_MIN, max: X_MAX,
          display: !!spec.xAxis,
          afterFit: s => { if (spec.xAxis) s.height = X_AXIS_H; },
          afterBuildTicks: s => { s.ticks = X_MAJOR.map(v => ({ value: v })); },
          grid: { display: false, drawTicks: false },
          border: { display: false },
          ticks: { callback: (v, i) => X_LABELS[i], font: { family: FONT, size: 20 }, color: INK, padding: 4, maxRotation: 0 },
          title: { display: true, text: 'Magnetic Field (T)', font: { family: FONT, size: 20 }, color: INK, padding: { top: 0, bottom: 1 } }
        },
        y: {
          type: 'linear', min: spec.yMin, max: spec.yMax,
          afterFit: s => { s.width = PLOT_LEFT; },
          afterBuildTicks: s => { s.ticks = spec.yTicks.map(v => ({ value: v })); },
          grid: { display: false, drawTicks: false },
          border: { display: false },
          ticks: { callback: (v, i) => spec.yLabels[i], font: { family: FONT, size: 19 }, color: INK, padding: 5, autoSkip: false }
        }
      }
    },
    plugins: [framePlugin]
  });
});
</script>
</body>
</html>
